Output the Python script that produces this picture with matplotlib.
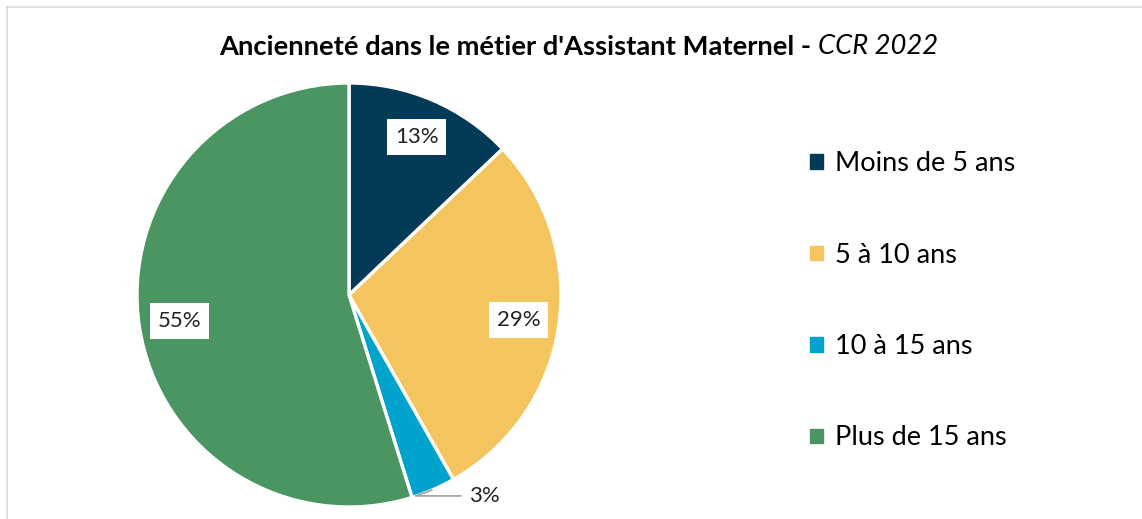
import matplotlib
matplotlib.use("Agg")
import matplotlib.pyplot as plt
from matplotlib.patches import Rectangle
import numpy as np

plt.rcParams['font.family'] = ['Lato', 'DejaVu Sans']

categories = ['Moins de 5 ans', '5 à 10 ans', '10 à 15 ans', 'Plus de 15 ans']
shares = [12.9, 28.9, 3.4, 54.8]
pct_labels = ['13%', '29%', '3%', '55%']
colors = ['#023A58', '#F4C55E', '#00A3CC', '#4A9562']
title_main = "Ancienneté dans le métier d'Assistant Maternel - "
title_ital = "CCR 2022"

W, H = 1142, 519
fig = plt.figure(figsize=(W / 100, H / 100), dpi=100)

# chart frame (only left and top edges visible in the crop)
fig.add_artist(plt.Line2D([7 / W, 7 / W], [0, 1 - 7 / H], color='#D9D9D9', lw=1.2))
fig.add_artist(plt.Line2D([7 / W, 1], [1 - 7 / H, 1 - 7 / H], color='#D9D9D9', lw=1.2))

cx, cy, r = 349, 295, 212
ax = fig.add_axes([(cx - r) / W, (H - cy - r) / H, 2 * r / W, 2 * r / H])
wedges, _ = ax.pie(shares, colors=colors, startangle=90, counterclock=False,
                   radius=1, wedgeprops=dict(edgecolor='white', linewidth=2.4))
ax.set_xlim(-1, 1)
ax.set_ylim(-1, 1)
ax.set_aspect('equal')
ax.axis('off')

for w, lab in zip(wedges, pct_labels):
    ang = np.deg2rad((w.theta1 + w.theta2) / 2)
    x0, y0 = np.cos(ang), np.sin(ang)
    if lab == '3%':
        ax.annotate(lab, xy=(x0, y0), xytext=(x0 + 0.17, y0 - 0.03),
                    ha='left', va='center', fontsize=16, color='#222222',
                    arrowprops=dict(arrowstyle='-', color='#A6A6A6', lw=1.3,
                                    shrinkA=4, shrinkB=1,
                                    connectionstyle='angle,angleA=0,angleB=20,rad=0'),
                    annotation_clip=False)
    else:
        ax.text(0.81 * x0, 0.81 * y0, lab, ha='center', va='center',
                fontsize=16, color='#222222',
                bbox=dict(boxstyle='square,pad=0.35', fc='white', ec='none'))

# title: bold part + italic part, centred together
renderer = fig.canvas.get_renderer()
t1 = fig.text(0, 1 - 47 / H, title_main, ha='left', va='center', fontsize=19.7, fontweight='bold')
t2 = fig.text(0, 1 - 47 / H, title_ital, ha='left', va='center', fontsize=19.7, fontstyle='italic')
w1 = t1.get_window_extent(renderer).width
w2 = t2.get_window_extent(renderer).width
x_start = 579 - (w1 + w2) / 2
t1.set_x(x_start / W)
t2.set_x((x_start + w1) / W)

leg = fig.legend(handles=[Rectangle((0, 0), 1, 1, color=c) for c in colors], labels=categories,
                 loc='upper left', bbox_to_anchor=(786 / W, 1 - 127 / H), frameon=False,
                 fontsize=19.5, handlelength=0.45, handleheight=0.45, handletextpad=0.45,
                 labelspacing=2.45)

fig.savefig('out.png', dpi=100)
